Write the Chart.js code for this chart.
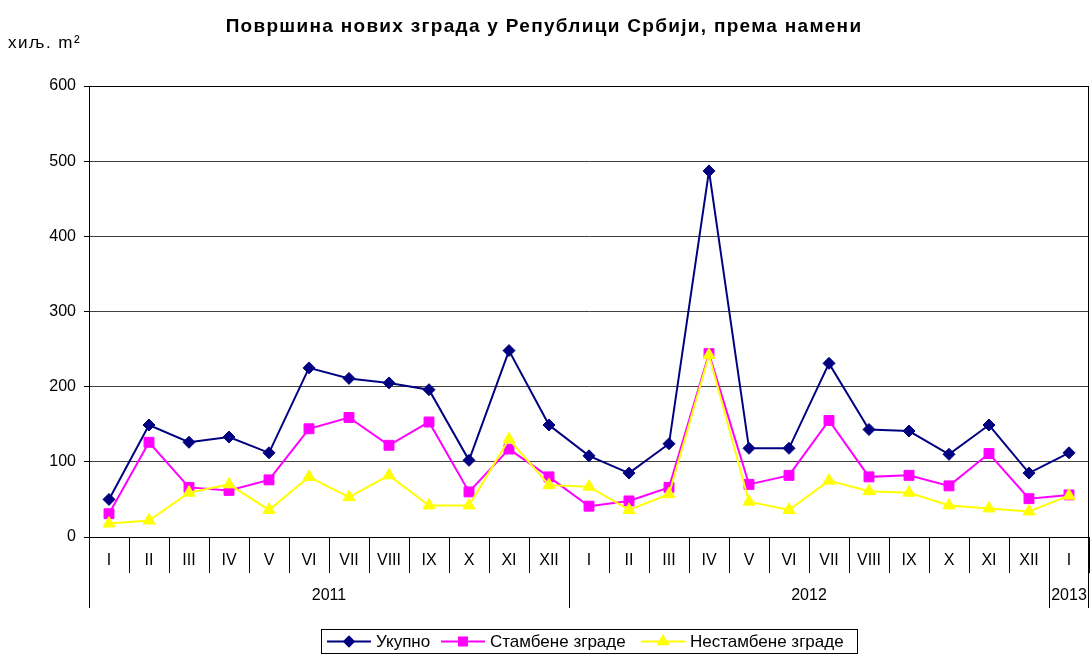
<!DOCTYPE html>
<html>
<head>
<meta charset="utf-8">
<script src="https://cdn.jsdelivr.net/npm/chart.js@4.4.1/dist/chart.umd.min.js"></script>
<style>
  html, body { margin: 0; padding: 0; background: #fff; }
  #wrap { width: 1091px; height: 655px; }
</style>
</head>
<body>
<div id="wrap"><canvas id="lineChart" width="1091" height="655"></canvas></div>
<script>
// months (2011 - I 2013)
const months = ['I', 'II', 'III', 'IV', 'V', 'VI', 'VII', 'VIII', 'IX', 'X', 'XI', 'XII',
                'I', 'II', 'III', 'IV', 'V', 'VI', 'VII', 'VIII', 'IX', 'X', 'XI', 'XII',
                'I'];
const years = ['2011', '2012', '2013'];
const yearSpans = [12, 12, 1];

// хиљ. m2
const ukupno     = [50, 149, 126, 133, 112, 225, 211, 205, 196, 102, 248, 149,
                    108, 85, 124, 487, 118, 118, 231, 143, 141, 110, 149, 85, 112];
const stambene   = [31, 126, 66, 62, 76, 144, 159, 122, 153, 60, 117, 80,
                    41, 48, 66, 244, 70, 82, 155, 80, 82, 68, 111, 51, 56];
const nestambene = [18, 22, 59, 70, 36, 80, 53, 82, 42, 42, 130, 69,
                    67, 36, 57, 242, 47, 36, 75, 61, 59, 42, 38, 34, 55];
const yTicks = [0, 100, 200, 300, 400, 500, 600];

const seriesNames = ['Укупно', 'Стамбене зграде', 'Нестамбене зграде'];

document.addEventListener("DOMContentLoaded", function () {
    const ctx = document.getElementById('lineChart').getContext('2d');

    // title, unit, year row, plot border and legend
    const extras = {
        id: 'extras',
        afterDraw(chart) {
            const c = chart.ctx;
            const area = chart.chartArea;
            const x = chart.scales.x;
            c.save();
            c.fillStyle = '#000';
            c.font = 'bold 19px Arial';
            c.letterSpacing = '1.3px';
            c.textAlign = 'center';
            c.textBaseline = 'middle';
            c.fillText('Површина нових зграда у Републици Србији, према намени', 544, 27);
            c.font = '17px Arial';
            c.letterSpacing = '1.5px';
            c.textAlign = 'left';
            c.fillText('хиљ. m²', 8, 43);
            c.letterSpacing = '0px';

            // plot border
            c.strokeStyle = '#000';
            c.lineWidth = 1;
            c.strokeRect(area.left + 0.5, area.top + 0.5, area.right - area.left - 1, area.bottom - area.top);

            // year groups
            const half = (x.getPixelForValue(1) - x.getPixelForValue(0)) / 2;
            let start = 0;
            c.font = '16px Arial';
            c.textAlign = 'center';
            const bounds = [x.getPixelForValue(0) - half];
            yearSpans.forEach((span, i) => {
                const l = x.getPixelForValue(start) - half;
                const r = x.getPixelForValue(start + span - 1) + half;
                bounds.push(r);
                c.fillText(years[i], (l + r) / 2, 596);
                start += span;
            });
            c.beginPath();
            bounds.forEach(b => {
                const bx = Math.min(Math.round(b), area.right - 1) + 0.5;
                c.moveTo(bx, area.bottom);
                c.lineTo(bx, 608);
            });
            c.stroke();

            // legend
            c.strokeRect(321.5, 629.5, 536, 24);
            const items = [
                { x: 327, ds: 0 },
                { x: 441, ds: 1 },
                { x: 641, ds: 2 }
            ];
            c.font = '17px Arial';
            c.textAlign = 'left';
            items.forEach(it => {
                const ds = chart.data.datasets[it.ds];
                const ly = 641.5;
                c.strokeStyle = ds.borderColor;
                c.lineWidth = 2;
                c.beginPath();
                c.moveTo(it.x, ly);
                c.lineTo(it.x + 44, ly);
                c.stroke();
                c.fillStyle = ds.backgroundColor;
                Chart.helpers.drawPoint(c, {
                    pointStyle: ds.pointStyle,
                    radius: ds.pointRadius * 0.8,
                    borderWidth: 1
                }, it.x + 22, ly);
                c.fillStyle = '#000';
                c.fillText(ds.label, it.x + 49, ly + 1);
            });
            c.restore();
        }
    };

    new Chart(ctx, {
        type: 'line',
        data: {
            labels: months,
            datasets: [{
                label: seriesNames[0],
                data: ukupno,
                borderColor: '#000080',
                backgroundColor: '#000080',
                borderWidth: 2,
                pointStyle: 'rectRot',
                pointRadius: 6,
                pointBorderWidth: 1,
                order: 3,
                fill: false
            }, {
                label: seriesNames[1],
                data: stambene,
                borderColor: '#FF00FF',
                backgroundColor: '#FF00FF',
                borderWidth: 2,
                pointStyle: 'rect',
                pointRadius: 7,
                pointBorderWidth: 1,
                order: 2,
                fill: false
            }, {
                label: seriesNames[2],
                data: nestambene,
                borderColor: '#FFFF00',
                backgroundColor: '#FFFF00',
                borderWidth: 2,
                pointStyle: 'triangle',
                pointRadius: 7,
                pointBorderWidth: 1,
                order: 1,
                fill: false
            }]
        },
        options: {
            responsive: false,
            maintainAspectRatio: false,
            animation: false,
            layout: { autoPadding: false, padding: { top: 86, right: 2, bottom: 0, left: 0 } },
            plugins: {
                legend: { display: false },
                title: { display: false },
                tooltip: { enabled: false }
            },
            elements: { line: { tension: 0 } },
            scales: {
                x: {
                    offset: true,
                    grid: {
                        offset: true,
                        drawOnChartArea: false,
                        drawTicks: true,
                        tickLength: 36,
                        tickColor: '#000',
                        tickWidth: 1
                    },
                    border: { color: '#000', width: 1 },
                    ticks: {
                        autoSkip: false,
                        maxRotation: 0,
                        padding: -22,
                        color: '#000',
                        font: { family: 'Arial', size: 16 }
                    },
                    afterFit(scale) {
                        scale.height = 118;
                        scale.paddingLeft = 0;
                        scale.paddingRight = 0;
                    }
                },
                y: {
                    min: 0,
                    max: 600,
                    afterBuildTicks(scale) {
                        scale.ticks = yTicks.map(v => ({ value: v }));
                    },
                    grid: {
                        color: '#404040',
                        lineWidth: 1,
                        tickLength: 5,
                        tickColor: '#000'
                    },
                    border: { color: '#000', width: 1 },
                    ticks: {
                        padding: 8,
                        color: '#000',
                        font: { family: 'Arial', size: 16 }
                    },
                    afterFit(scale) { scale.width = 89; }
                }
            }
        },
        plugins: [extras]
    });
});
</script>
</body>
</html>
